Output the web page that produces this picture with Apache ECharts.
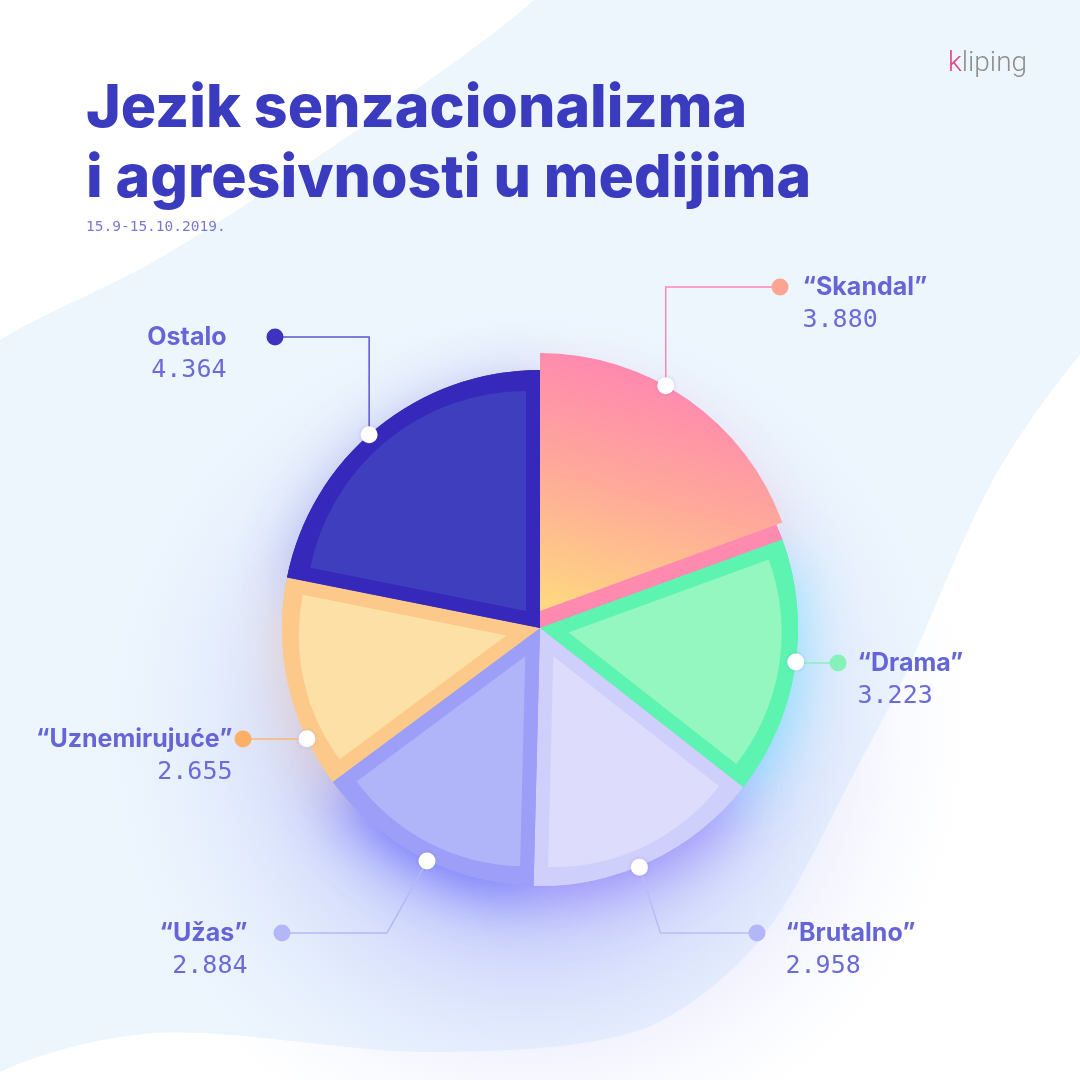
<!DOCTYPE html>
<html>
<head>
<meta charset="utf-8">
<title>Jezik senzacionalizma i agresivnosti u medijima</title>
<script src="https://cdn.jsdelivr.net/npm/echarts@6/dist/echarts.min.js"></script>
<style>
	html, body { margin: 0; padding: 0; background: #fff; }
	#chart { width: 1080px; height: 1080px; }
</style>
</head>
<body>
<div id="chart"></div>
<script>
	// podaci
	var names = ['“Skandal”', '“Drama”', '“Brutalno”', '“Užas”', '“Uznemirujuće”', 'Ostalo'];
	var values = [3880, 3223, 2958, 2884, 2655, 4364];

	// boje
	var ringColors = ['#ff8ab0', '#5df3b1', '#cfcffb', '#9c9ef8', '#fdc98a', '#3628ba'];
	var fillColors = [null, '#95f7c0', '#dddcfd', '#b0b4f9', '#fde0a6', '#3f3ebf'];
	var glowColors = ['rgba(255,140,180,0.35)', 'rgba(60,220,255,0.55)', 'rgba(130,110,250,0.7)', 'rgba(90,90,250,0.8)', 'rgba(250,180,120,0.4)', 'rgba(70,60,200,0.35)'];
	var dotColors = ['#fda592', '#86f2b9', '#b3b7f8', '#b3b7f8', '#fdb066', '#3c33bf'];
	var lineColors = ['#ff86b8', '#86f2b9', '#b9bcf8', '#b5b8f8', '#fbb673', '#5b55d0'];

	// raspored natpisa (px)
	var labelPos = [[780, 287], [838, 663], [757, 933], [282, 933], [243, 739], [275, 337]];
	var labelSide = ['r', 'r', 'r', 'l', 'l', 'l'];
	var textGap = [14, 11, 20, 26, 2, 40];
	var dotFrac = [0.392, 0.475, 0.55, 0.47, 0.233, 0.473];
	var dotRadius = [273, 258, 259, 259, 258, 258];
	var elbowDx = [0, 0, 21, -40, 0, 0];

	var CX = 540, CY = 628, R = 258, INSET = 14, BAND = 16;

	var total = 0, starts = [];
	for (var i = 0; i < values.length; i++) {
		starts.push(total);
		total += values[i];
	}

	function toXY(r, val) {
		var a = val / total * Math.PI * 2;
		return [CX + r * Math.sin(a), CY - r * Math.cos(a)];
	}

	function makeLabel(i) {
		var right = labelSide[i] === 'r';
		var val = (values[i] / 1000).toFixed(3);
		var g = textGap[i];
		return {
			formatter: right ? '{d|}{n|' + names[i] + '}\n{v|' + val + '}' : '{n|' + names[i] + '}{d|}\n{v|' + val + '}',
			rich: {
				d: { width: 17, height: 17, borderRadius: 8.5, backgroundColor: dotColors[i], lineHeight: 32 },
				n: { fontFamily: 'Inter', fontWeight: 700, fontSize: 25, color: '#6565d8', lineHeight: 32, padding: right ? [0, 0, 0, g] : [0, g, 0, 0] },
				v: { fontFamily: 'DejaVu Sans Mono', fontSize: 25, color: '#6b6bd9', lineHeight: 34, padding: right ? [0, 0, 0, g + 17] : [0, g + 17, 0, 0] }
			}
		};
	}

	var series = [];

	// sjena ispod
	series.push({
		type: 'pie', z: 1, center: [CX, CY], radius: R, silent: true,
		label: { show: false }, labelLine: { show: false },
		data: values.map(function (v, i) {
			return { value: v, name: names[i], itemStyle: { color: ringColors[i], shadowBlur: 60, shadowColor: glowColors[i], shadowOffsetY: 14 } };
		})
	});

	// rub
	series.push({
		type: 'pie', z: 2, center: [CX, CY], radius: R, silent: true,
		label: { show: false }, labelLine: { show: false },
		data: values.map(function (v, i) {
			return { value: v, name: names[i], itemStyle: { color: ringColors[i] } };
		})
	});

	// unutarnje plohe
	function fillSeries(k) {
		var span = values[k] / total * 360;
		var mid = (starts[k] + values[k] / 2) / total * Math.PI * 2;
		var c, r, color;
		if (k === 0) {
			c = [CX, CY - 17];
			r = R;
			color = new echarts.graphic.LinearGradient(0.4, 0, 0.1, 1, [
				{ offset: 0, color: '#ff84b2' },
				{ offset: 0.5, color: '#ffa99a' },
				{ offset: 1, color: '#fed880' }
			]);
		} else {
			var d = INSET / Math.sin(span / 2 * Math.PI / 180);
			c = [CX + d * Math.sin(mid), CY - d * Math.cos(mid)];
			r = R - BAND - d;
			color = fillColors[k];
		}
		return {
			type: 'pie', z: 3, center: c, radius: r, silent: true,
			label: { show: false }, labelLine: { show: false },
			data: values.map(function (v, j) {
				return { value: v, name: names[j], itemStyle: { color: j === k ? color : 'rgba(0,0,0,0)' } };
			})
		};
	}
	for (var k = 0; k < values.length; k++) {
		series.push(fillSeries(k));
	}

	// natpisi
	series.push({
		type: 'pie', z: 4, center: [CX, CY], radius: R, silent: true,
		itemStyle: { color: 'rgba(0,0,0,0)' },
		label: { show: true, position: 'outside' },
		labelLine: { show: true, lineStyle: { width: 1.5 } },
		labelLayout: function (params) {
			var i = params.dataIndex;
			var w = toXY(dotRadius[i], starts[i] + dotFrac[i] * values[i]);
			var p = labelPos[i];
			var right = labelSide[i] === 'r';
			return {
				x: right ? p[0] - 8.5 : p[0] + 8.5,
				y: p[1] - 16,
				align: right ? 'left' : 'right',
				verticalAlign: 'top',
				labelLinePoints: [w, [w[0] + elbowDx[i], p[1]], p]
			};
		},
		data: values.map(function (v, i) {
			return { value: v, name: names[i], label: makeLabel(i), labelLine: { lineStyle: { color: lineColors[i] } } };
		})
	});

	// bijele tocke na rubu
	series.push({
		type: 'scatter', coordinateSystem: 'polar', z: 5, symbolSize: 17, silent: true,
		itemStyle: { color: '#ffffff', opacity: 1, shadowBlur: 4, shadowColor: 'rgba(80,80,200,0.2)' },
		data: values.map(function (v, i) {
			return [dotRadius[i], starts[i] + dotFrac[i] * v];
		})
	});

	var chart = echarts.init(document.getElementById('chart'));
	chart.setOption({
		backgroundColor: '#ffffff',
		animation: false,
		title: [{
			text: 'Jezik senzacionalizma\ni agresivnosti u medijima',
			left: 86, top: 74, padding: 0,
			textStyle: { fontFamily: 'Inter', fontWeight: 800, fontSize: 59, lineHeight: 70, color: '#3b3bbf' }
		}, {
			text: '15.9-15.10.2019.',
			left: 86, top: 220, padding: 0,
			textStyle: { fontFamily: 'DejaVu Sans Mono', fontWeight: 'normal', fontSize: 14.5, color: '#7878d8' }
		}, {
			text: '{k|k}liping',
			left: 948, top: 50, padding: 0,
			textStyle: {
				fontFamily: 'Roboto', fontWeight: 300, fontSize: 28, color: '#8e8e8e',
				rich: { k: { fontFamily: 'Roboto', fontWeight: 300, fontSize: 28, color: '#e53f86' } }
			}
		}],
		polar: { center: [CX, CY], radius: 300 },
		angleAxis: { type: 'value', min: 0, max: total, startAngle: 90, show: false },
		radiusAxis: { type: 'value', min: 0, max: 300, show: false },
		graphic: [{
			type: 'rect', z: -12,
			shape: { x: 0, y: 0, width: 1080, height: 1080 },
			style: { fill: '#edf6fd' }
		}, {
			type: 'polygon', z: -11,
			shape: {
				points: [[-400, 600], [0, 340], [160, 258], [360, 128], [534, 0], [640, -120], [-400, -400]],
				smooth: 0.3
			},
			style: { fill: '#ffffff' }
		}, {
			type: 'polygon', z: -11,
			shape: {
				points: [[1080, 355], [992, 482], [905, 675], [861, 760], [760, 940], [640, 1030], [430, 1052], [158, 1033], [0, 1072], [-300, 1250], [1400, 1400], [1300, 120]],
				smooth: 0.3
			},
			style: { fill: '#ffffff' }
		}, {
			type: 'circle', z: -9,
			shape: { cx: 530, cy: 730, r: 450 },
			style: {
				fill: new echarts.graphic.RadialGradient(0.5, 0.5, 0.5, [
					{ offset: 0, color: 'rgba(140,140,250,0.6)' },
					{ offset: 0.5, color: 'rgba(165,170,250,0.38)' },
					{ offset: 1, color: 'rgba(237,246,253,0)' }
				])
			}
		}],
		series: series
	});
</script>
</body>
</html>
